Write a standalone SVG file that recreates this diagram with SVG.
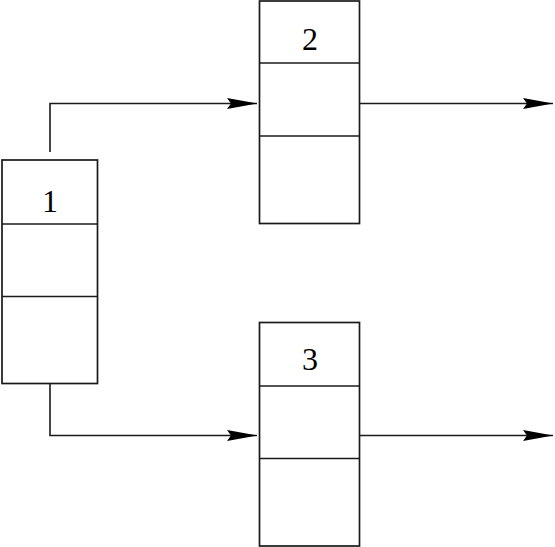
<svg xmlns="http://www.w3.org/2000/svg" width="555" height="547" viewBox="0 0 555 547">
<style>
.box{fill:none;stroke:#1a1a1a;stroke-width:1.7}
.conn{fill:none;stroke:#1a1a1a;stroke-width:1.6}
.lbl{font-family:"Liberation Serif",serif;font-size:32px;fill:#000;text-anchor:middle}
</style>
<defs>
<marker id="arr" markerUnits="userSpaceOnUse" markerWidth="30" markerHeight="14" refX="30" refY="7" orient="auto">
<path d="M0,1.5 L30,7 L0,12.5 L4,7 Z" fill="#000"/>
</marker>
</defs>
<rect width="555" height="547" fill="#fff"/>
<g id="node1">
<rect class="box" x="2" y="160" width="95.5" height="223.5"/>
<line class="box" x1="2" y1="224" x2="97.5" y2="224"/>
<line class="box" x1="2" y1="296.5" x2="97.5" y2="296.5"/>
<text class="lbl" x="50" y="212">1</text>
</g>
<g id="node2">
<rect class="box" x="259.5" y="1" width="100" height="222.5"/>
<line class="box" x1="259.5" y1="63" x2="359.5" y2="63"/>
<line class="box" x1="259.5" y1="136" x2="359.5" y2="136"/>
<text class="lbl" x="310" y="50">2</text>
</g>
<g id="node3">
<rect class="box" x="259.5" y="322.5" width="100" height="223.5"/>
<line class="box" x1="259.5" y1="386" x2="359.5" y2="386"/>
<line class="box" x1="259.5" y1="458.5" x2="359.5" y2="458.5"/>
<text class="lbl" x="310" y="370">3</text>
</g>
<g id="connectors">
<path class="conn" d="M50,152 V103.5 H257" marker-end="url(#arr)"/>
<path class="conn" d="M50,383.5 V435.5 H257" marker-end="url(#arr)"/>
<path class="conn" d="M359.5,103.5 H553" marker-end="url(#arr)"/>
<path class="conn" d="M359.5,435.5 H553" marker-end="url(#arr)"/>
</g>
</svg>
